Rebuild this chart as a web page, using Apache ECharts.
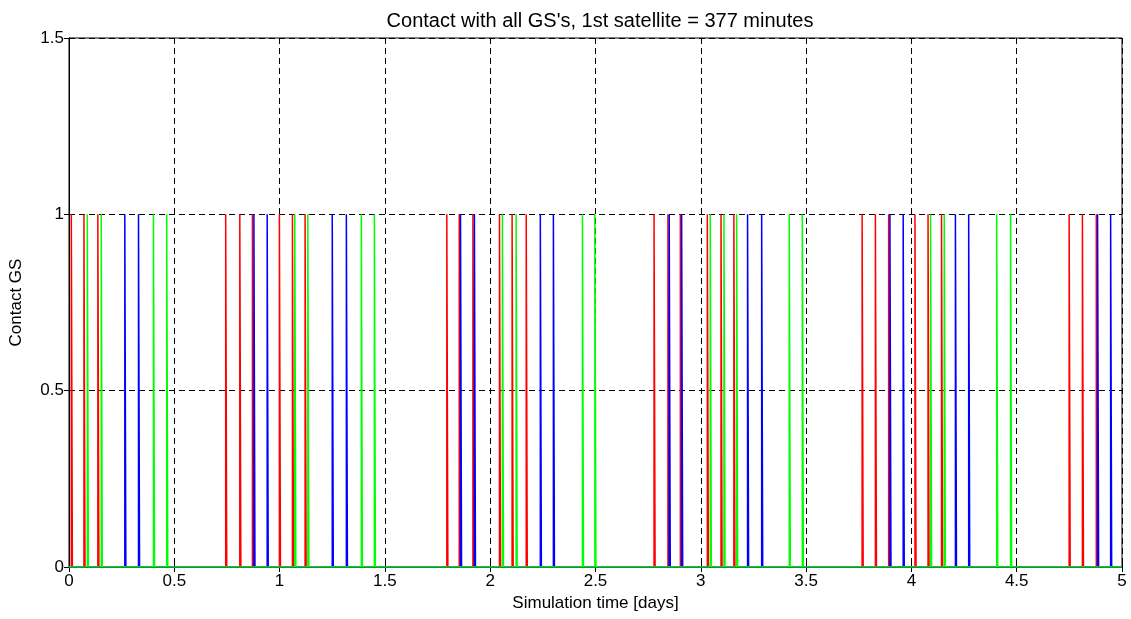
<!DOCTYPE html>
<html>
<head>
<meta charset="utf-8">
<title>Contact with all GS's</title>
<script src="https://cdn.jsdelivr.net/npm/echarts@6/dist/echarts.min.js"></script>
<style>
  html, body { margin: 0; padding: 0; background: #fff; }
  #chart { width: 1131px; height: 619px; }
</style>
</head>
<body>
<div id="chart"></div>
<script>
// Contact windows [start, end] in days for each ground station
const gsRed = [
  [0.011,0.016],[0.071,0.076],[0.137,0.142],[0.744,0.749],[0.811,0.816],[0.871,0.876],
  [0.999,1.004],[1.061,1.066],[1.121,1.126],[1.794,1.799],[1.853,1.858],[1.918,1.923],
  [2.044,2.049],[2.104,2.109],[2.171,2.176],[2.778,2.783],[2.844,2.849],[2.903,2.908],
  [3.031,3.036],[3.096,3.101],[3.157,3.162],[3.766,3.771],[3.829,3.834],[3.892,3.897],
  [4.017,4.022],[4.079,4.084],[4.143,4.148],[4.749,4.754],[4.812,4.817],[4.878,4.883]
];
const gsBlue = [
  [0.265,0.270],[0.330,0.335],[0.878,0.883],[0.941,0.946],[1.250,1.255],[1.317,1.322],
  [1.859,1.864],[1.925,1.930],[2.238,2.243],[2.300,2.305],[2.850,2.855],[2.909,2.914],
  [3.222,3.227],[3.289,3.294],[3.898,3.903],[3.961,3.966],[4.209,4.214],[4.272,4.277],
  [4.884,4.889],[4.946,4.951]
];
const gsGreen = [
  [0.087,0.092],[0.153,0.158],[0.401,0.406],[0.464,0.469],[1.072,1.077],[1.134,1.139],
  [1.388,1.393],[1.450,1.455],[2.058,2.063],[2.123,2.128],[2.438,2.443],[2.497,2.502],
  [3.045,3.050],[3.110,3.115],[3.170,3.175],[3.420,3.425],[3.482,3.487],[4.091,4.096],
  [4.156,4.161],[4.405,4.410],[4.471,4.476]
];
const simStart = 0;
const simEnd = 5;
const xTicks = [0, 0.5, 1, 1.5, 2, 2.5, 3, 3.5, 4, 4.5, 5];
const yTicks = [0, 0.5, 1, 1.5];

const FONT = '"Liberation Sans", Arial, Helvetica, sans-serif';

// Turn contact windows into a 0/1 step signal over the simulation span
function stepSignal(windows) {
  const pts = [[simStart, 0]];
  windows.forEach(([s, e]) => {
    pts.push([s, 0], [s, 1], [e, 1], [e, 0]);
  });
  pts.push([simEnd, 0]);
  return pts;
}

function lineSeries(name, color, windows) {
  return {
    name, type: 'line', data: stepSignal(windows),
    showSymbol: false, symbol: 'none',
    lineStyle: { color, width: 1.5 },
    itemStyle: { color },
    animation: false, silent: true
  };
}

const gridDash = { show: true, lineStyle: { color: '#000', type: [6, 4], width: 1 } };

const chart = echarts.init(document.getElementById('chart'), null, { renderer: 'canvas' });
chart.setOption({
  animation: false,
  backgroundColor: '#fff',
  title: {
    text: "Contact with all GS's, 1st satellite = 377 minutes",
    left: 595, top: 6, textAlign: 'center',
    textStyle: { fontFamily: FONT, fontSize: 20, fontWeight: 'normal', color: '#000' }
  },
  grid: {
    left: 68, right: 9, top: 38, bottom: 52,
    show: true, borderColor: '#000', borderWidth: 1, backgroundColor: '#fff'
  },
  xAxis: [{
    type: 'value', min: xTicks[0], max: xTicks[xTicks.length - 1], interval: 0.5,
    name: 'Simulation time [days]', nameLocation: 'middle', nameGap: 27,
    nameTextStyle: { fontFamily: FONT, fontSize: 17, color: '#000' },
    axisLine: { show: true, onZero: false, lineStyle: { color: '#000', width: 1 } },
    axisTick: { show: true, inside: true, length: 5, lineStyle: { color: '#000' } },
    axisLabel: { fontFamily: FONT, fontSize: 17, color: '#000', margin: 6 },
    splitLine: gridDash
  }, {
    type: 'value', position: 'top', min: xTicks[0], max: xTicks[xTicks.length - 1], interval: 0.5,
    axisLine: { show: true, lineStyle: { color: '#000', width: 1 } },
    axisTick: { show: true, inside: true, length: 5, lineStyle: { color: '#000' } },
    axisLabel: { show: false }, splitLine: { show: false }
  }],
  yAxis: [{
    type: 'value', min: yTicks[0], max: yTicks[yTicks.length - 1], interval: 0.5,
    name: 'Contact GS', nameLocation: 'middle', nameGap: 44,
    nameTextStyle: { fontFamily: FONT, fontSize: 17, color: '#000' },
    axisLine: { show: true, lineStyle: { color: '#000', width: 1 } },
    axisTick: { show: true, inside: true, length: 5, lineStyle: { color: '#000' } },
    axisLabel: { fontFamily: FONT, fontSize: 17, color: '#000', margin: 5 },
    splitLine: gridDash
  }, {
    type: 'value', position: 'right', min: yTicks[0], max: yTicks[yTicks.length - 1], interval: 0.5,
    axisLine: { show: true, lineStyle: { color: '#000', width: 1 } },
    axisTick: { show: true, inside: true, length: 5, lineStyle: { color: '#000' } },
    axisLabel: { show: false }, splitLine: { show: false }
  }],
  series: [
    lineSeries('GS 1', '#ff0000', gsRed),
    lineSeries('GS 2', '#0000ff', gsBlue),
    lineSeries('GS 3', '#00ff00', gsGreen)
  ]
});
</script>
</body>
</html>
